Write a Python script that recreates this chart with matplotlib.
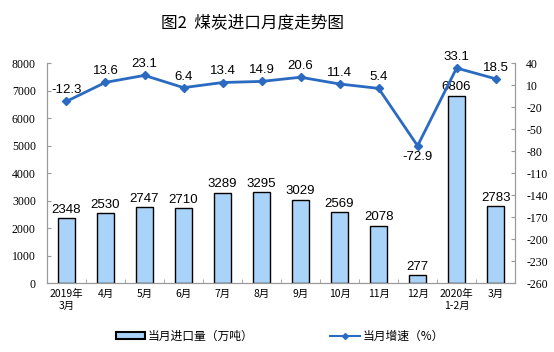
import matplotlib
matplotlib.use("Agg")
import matplotlib.pyplot as plt
from matplotlib.lines import Line2D
from matplotlib.patches import Patch

plt.rcParams['font.family'] = ['Noto Sans CJK SC', 'DejaVu Sans']

categories = ["2019年\n3月", "4月", "5月", "6月", "7月", "8月", "9月", "10月", "11月", "12月", "2020年\n1-2月", "3月"]
imports = [2348, 2530, 2747, 2710, 3289, 3295, 3029, 2569, 2078, 277, 6806, 2783]
growth = [-12.3, 13.6, 23.1, 6.4, 13.4, 14.9, 20.6, 11.4, 5.4, -72.9, 33.1, 18.5]
left_ticks = [0, 1000, 2000, 3000, 4000, 5000, 6000, 7000, 8000]
right_ticks = [-260, -230, -200, -170, -140, -110, -80, -50, -20, 10, 40]

fig = plt.figure(figsize=(5.54, 3.52), dpi=100)
ax = fig.add_axes([0.0848, 0.196, 0.845, 0.625])
x = list(range(len(categories)))

bar_color = "#a9d3f8"
line_color = "#2a6ac0"
spine_color = "#9a9a9a"

ax.bar(x, imports, width=0.42, color=bar_color, edgecolor="black", linewidth=1.0, zorder=2)
for xi, v in zip(x, imports):
    ax.text(xi, v + 90, str(v), ha="center", va="bottom", fontsize=9.5,
            family=["Liberation Sans"], zorder=5)
ax.set_xlim(-0.5, len(categories) - 0.5)
ax.set_ylim(0, 8000)
ax.set_yticks(left_ticks)
ax.set_yticklabels([str(t) for t in left_ticks], family=["Liberation Serif"], fontsize=8.5)
ax.set_xticks(x)
ax.set_xticklabels(categories, fontsize=7.5, linespacing=1.3)
ax.set_xticks([i + 0.5 for i in x[:-1]], minor=True)

ax2 = ax.twinx()
ax2.plot(x, growth, color=line_color, linewidth=2, marker="D", markersize=4.5,
         markerfacecolor=line_color, markeredgecolor=line_color, zorder=4)
for xi, v in zip(x, growth):
    if v < -50:
        ax2.text(xi, v - 7, f"{v:.1f}", ha="center", va="top", fontsize=9.5,
                 family=["Liberation Sans"], zorder=5)
    else:
        ax2.text(xi, v + 7, f"{v:.1f}", ha="center", va="bottom", fontsize=9.5,
                 family=["Liberation Sans"], zorder=5)
ax2.set_ylim(-260, 40)
ax2.set_yticks(right_ticks)
ax2.set_yticklabels([str(t) for t in right_ticks], family=["Liberation Serif"], fontsize=8.5)

for a in (ax, ax2):
    a.spines["top"].set_visible(False)
    for s in ("left", "right", "bottom"):
        a.spines[s].set_color(spine_color)
        a.spines[s].set_linewidth(0.8)
ax.tick_params(axis="y", direction="in", length=3, color=spine_color, pad=8)
ax2.tick_params(axis="y", direction="in", length=3, color=spine_color, pad=8)
ax.tick_params(axis="x", which="major", length=0, pad=4)
ax.tick_params(axis="x", which="minor", direction="in", length=3, color=spine_color)

fig.text(0.455, 0.935, "图2  煤炭进口月度走势图", ha="center", va="center",
         fontsize=12, fontweight="medium")

handles = [Patch(facecolor=bar_color, edgecolor="black", linewidth=1.5),
           Line2D([0], [0], color=line_color, linewidth=1.5, marker="D", markersize=3)]
fig.legend(handles, ["当月进口量（万吨）", "当月增速（%）"], loc="center",
           bbox_to_anchor=(0.505, 0.045), ncol=2, frameon=False, fontsize=8.5,
           handlelength=2.5, handleheight=0.5, columnspacing=6.5, handletextpad=0.2)

fig.savefig("out.png", dpi=100)
